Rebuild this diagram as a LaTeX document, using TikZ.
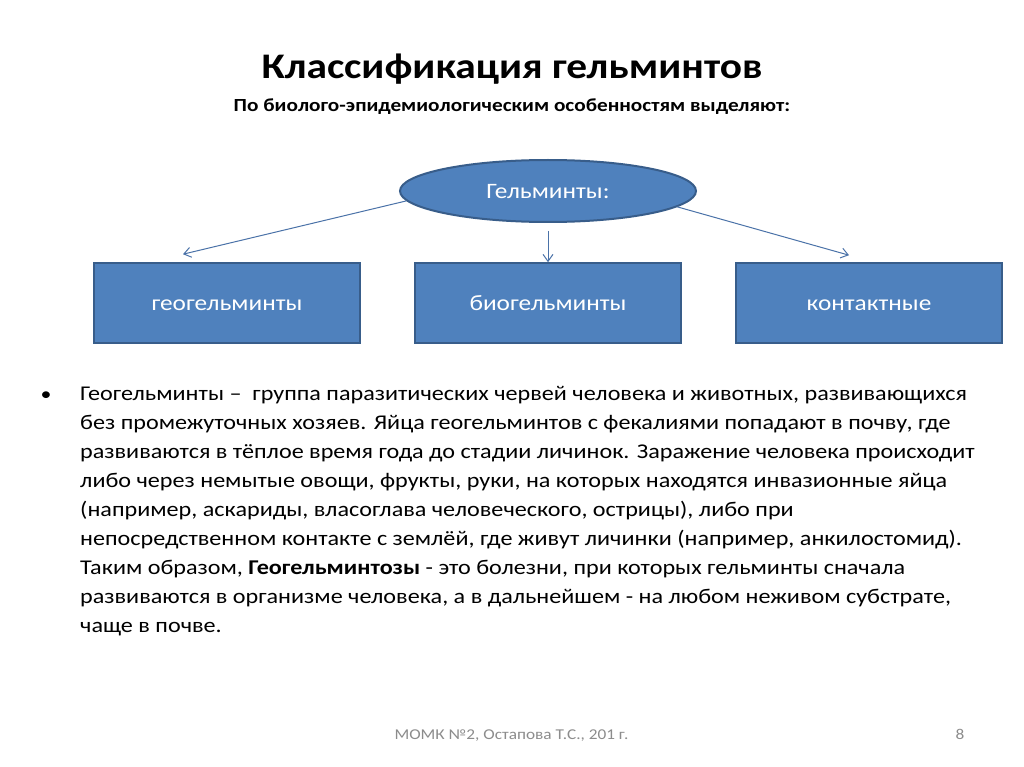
\documentclass[tikz,border=0pt]{standalone}
\usepackage{fontspec}
\setmainfont[FakeStretch=1.15]{Carlito}
\usetikzlibrary{arrows.meta,shapes.geometric,calc}
\definecolor{boxblue}{HTML}{4F81BD}
\definecolor{edgeblue}{HTML}{385D8A}
\definecolor{linkblue}{HTML}{4A72A8}
\definecolor{footgray}{HTML}{8C8C8C}

\begin{document}
\begin{tikzpicture}[
    x=1pt, y=-1pt,
    kind/.style={draw=edgeblue, fill=boxblue, line width=1.6pt, minimum width=266pt,
      minimum height=80pt, text=white, font=\fontsize{22}{24}\selectfont,
      text height=14pt, text depth=0pt},
    oval/.style={ellipse, draw=edgeblue, fill=boxblue, line width=2pt, minimum width=296pt,
      minimum height=62pt, text=white, font=\fontsize{22}{24}\selectfont,
      text height=15.5pt, text depth=0pt},
    arrow/.style={-{Straight Barb[length=7pt,width=10pt]}, draw=linkblue, line width=1pt}
  ]
  \useasboundingbox[fill=white] (0,0) rectangle (1024,767);

  % title
  \node[font=\fontsize{36}{40}\selectfont\bfseries, anchor=base] (title) at (512,79) {Классификация гельминтов};
  \node[font=\fontsize{18.5}{22}\selectfont\bfseries, anchor=base] (sub) at (512,112)
    {По биолого-эпидемиологическим особенностям выделяют:};

  % diagram
  \node[oval] (helm) at (548,191) {Гельминты:};
  \node[kind] (geo) at (227,303) {геогельминты};
  \node[kind] (bio) at (548,303) {биогельминты};
  \node[kind] (cont) at (869,303) {контактные};

  \draw[arrow] (helm.184) -- ([xshift=-44pt,yshift=8pt]geo.north);
  \draw[arrow] ([yshift=-8pt]helm.south) -- (bio.north);
  \draw[arrow] (helm.353) -- ([xshift=-20pt,yshift=7pt]cont.north);

  % body text
  \node[font=\fontsize{19}{29}\selectfont, anchor=base] (dot) at (46,400) {•};
  \node[font=\fontsize{21}{29}\selectfont, align=left, anchor=north west, inner sep=0pt] (body) at (80,386)
    {Геогельминты –\ \ группа паразитических червей человека и животных, развивающихся\\
     без промежуточных хозяев. Яйца геогельминтов с фекалиями попадают в почву, где\\
     развиваются в тёплое время года до стадии личинок. Заражение человека происходит\\
     либо через немытые овощи, фрукты, руки, на которых находятся инвазионные яйца\\
     (например, аскариды, власоглава человеческого, острицы), либо при\\
     непосредственном контакте с землёй, где живут личинки (например, анкилостомид).\\
     Таким образом, \textbf{Геогельминтозы} - это болезни, при которых гельминты сначала\\
     развиваются в организме человека, а в дальнейшем - на любом неживом субстрате,\\
     чаще в почве.};

  % footer
  \node[font=\fontsize{15}{17}\selectfont, text=footgray, anchor=base west] (foot) at (391,739)
    {МОМК №2, Остапова Т.С., 201 г.};
  \node[font=\fontsize{15}{17}\selectfont, text=footgray, anchor=base] (page) at (960,739) {8};
\end{tikzpicture}
\end{document}
